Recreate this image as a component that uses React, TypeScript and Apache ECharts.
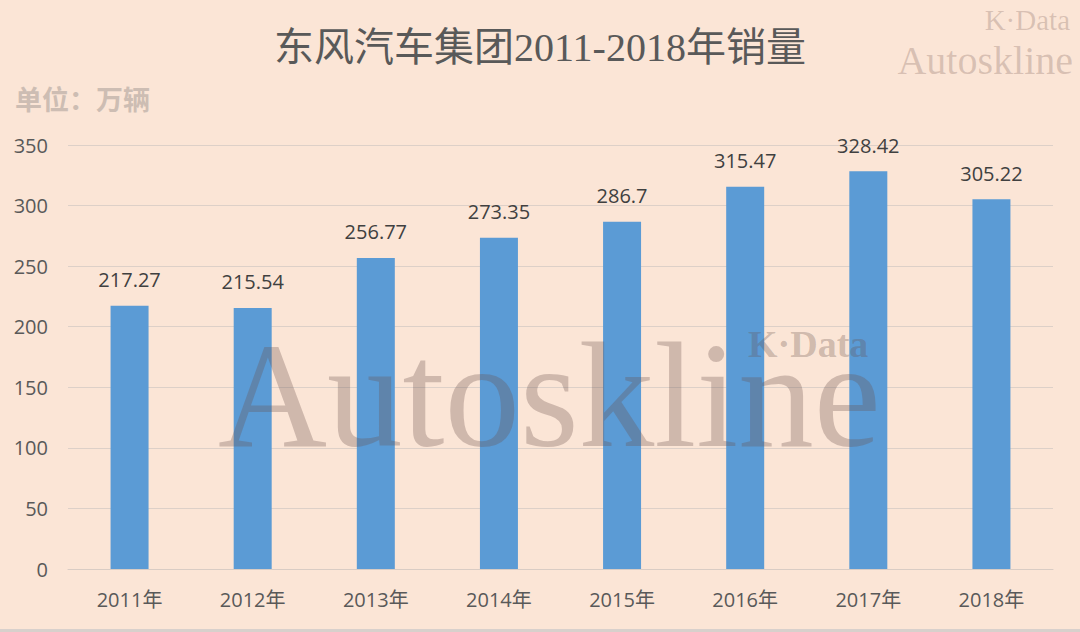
import React, { useEffect, useRef } from "react";
import * as echarts from "echarts";

const categories = ["2011年", "2012年", "2013年", "2014年", "2015年", "2016年", "2017年", "2018年"];
const sales = [217.27, 215.54, 256.77, 273.35, 286.7, 315.47, 328.42, 305.22];
const titleText = "东风汽车集团2011-2018年销量";
const unitText = "单位：万辆";

export default function App() {
  const ref = useRef<HTMLDivElement>(null);
  useEffect(() => {
    document.body.style.margin = "0";
    const chart = echarts.init(ref.current!, null, { renderer: "svg" });
    const wm = "rgba(105,80,75,0.3)";
    chart.setOption({
      animation: false,
      backgroundColor: "#FBE5D6",
      title: {
        text: titleText,
        left: "center",
        top: 22,
        textStyle: {
          fontFamily: "'Liberation Serif', 'Noto Sans CJK SC', serif",
          fontSize: 40,
          fontWeight: "normal",
          color: "#595959",
        },
      },
      grid: { left: 68, right: 27, top: 145, bottom: 63, containLabel: false },
      xAxis: {
        type: "category",
        data: categories,
        axisLine: { show: true, lineStyle: { color: "#D9CCC4", width: 1 } },
        axisTick: { show: false },
        axisLabel: {
          color: "#595959",
          fontSize: 20,
          margin: 20,
          fontFamily: "'Open Sans', 'Noto Sans CJK SC', sans-serif",
        },
      },
      yAxis: {
        type: "value",
        min: 0,
        max: 350,
        interval: 50,
        axisLine: { show: false },
        axisTick: { show: false },
        splitLine: { lineStyle: { color: "#DDD0C8", width: 1 } },
        axisLabel: {
          color: "#595959",
          fontSize: 20,
          margin: 20,
          fontFamily: "'Open Sans', sans-serif",
        },
      },
      series: [
        {
          type: "bar",
          data: sales,
          barWidth: 38,
          itemStyle: { color: "#5B9BD5" },
          label: {
            show: true,
            position: "top",
            distance: 16,
            color: "#404040",
            fontSize: 20,
            fontFamily: "'Open Sans', sans-serif",
          },
        },
      ],
      graphic: [
        {
          type: "text",
          x: 15,
          y: 98,
          z: 100,
          style: {
            text: unitText,
            fill: "#CDBDB3",
            font: "bold 27px 'Noto Sans CJK SC', sans-serif",
            verticalAlign: "middle",
          },
        },
        {
          type: "text",
          x: 1070,
          y: 20,
          z: 100,
          style: {
            text: "K·Data",
            fill: "rgba(130,100,90,0.28)",
            font: "29px 'Liberation Serif', serif",
            align: "right",
            verticalAlign: "middle",
          },
        },
        {
          type: "text",
          x: 1073,
          y: 60,
          z: 100,
          style: {
            text: "Autoskline",
            fill: "rgba(130,100,90,0.28)",
            font: "40px 'Liberation Serif', serif",
            align: "right",
            verticalAlign: "middle",
          },
        },
        {
          type: "text",
          x: 218,
          y: 395,
          z: 100,
          style: {
            text: "Autoskline",
            fill: wm,
            font: "151px 'Liberation Serif', serif",
            align: "left",
            verticalAlign: "middle",
          },
        },
        {
          type: "text",
          x: 748,
          y: 344,
          z: 100,
          style: {
            text: "K·Data",
            fill: wm,
            font: "bold 38px 'Liberation Serif', serif",
            align: "left",
            verticalAlign: "middle",
          },
        },
        {
          type: "rect",
          shape: { x: 0, y: 629, width: 1080, height: 3 },
          z: 100,
          style: { fill: "#D8D0CC" },
        },
      ],
    });
    return () => chart.dispose();
  }, []);
  return <div ref={ref} style={{ width: 1080, height: 632 }} />;
}
